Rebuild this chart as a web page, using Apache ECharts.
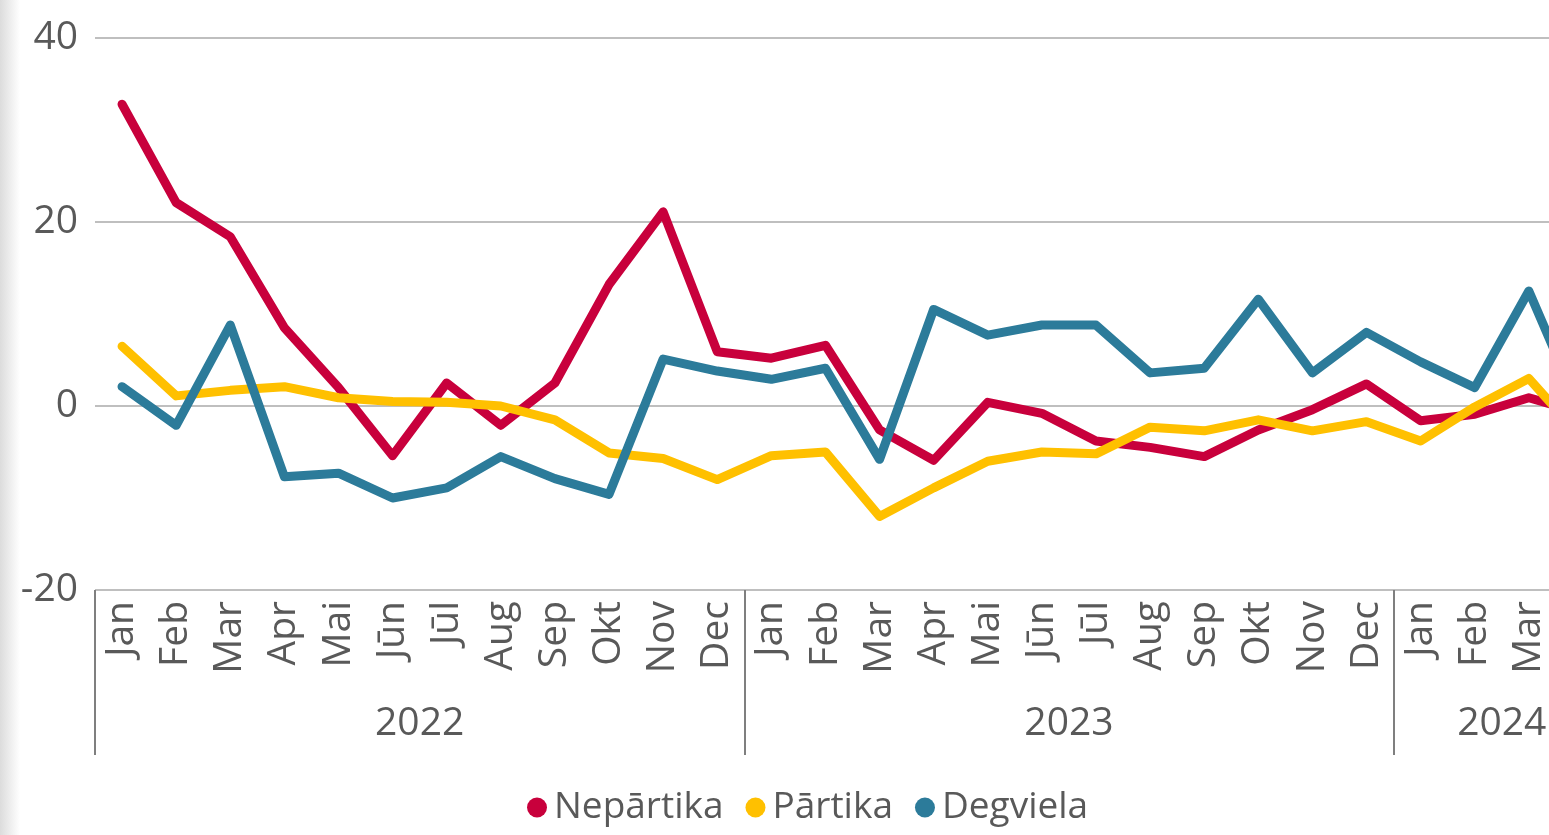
<!DOCTYPE html>
<html>
<head>
<meta charset="utf-8">
<script src="https://cdn.jsdelivr.net/npm/echarts@6/dist/echarts.min.js"></script>
<style>
  html, body { margin: 0; padding: 0; background: #fff; }
  #chart { width: 1549px; height: 835px; }
  #shade { position: absolute; left: 0; top: 0; width: 20px; height: 835px;
           background: linear-gradient(to right, #dcdcdc, #ffffff); }
</style>
</head>
<body>
<div id="shade"></div>
<div id="chart"></div>
<script>
var months = ['Jan','Feb','Mar','Apr','Mai','Jūn','Jūl','Aug','Sep','Okt','Nov','Dec',
              'Jan','Feb','Mar','Apr','Mai','Jūn','Jūl','Aug','Sep','Okt','Nov','Dec',
              'Jan','Feb','Mar','Apr'];
var years = ['2022', '2023', '2024'];
var yearStarts = [0, 12, 24];
var yearMiddles = [6, 18, 26];

var nepartika = [32.8, 22.1, 18.4, 8.5, 2.0, -5.4, 2.5, -2.1, 2.5, 13.2, 21.1, 5.9,
                 5.2, 6.6, -2.6, -5.9, 0.4, -0.8, -3.8, -4.5, -5.5, -2.6, -0.4, 2.4,
                 -1.6, -0.9, 0.9, -0.8];
var partika = [6.5, 1.1, 1.7, 2.1, 0.9, 0.5, 0.4, 0.0, -1.5, -5.1, -5.7, -8.0,
               -5.4, -5.0, -12.0, -8.9, -6.0, -5.0, -5.2, -2.3, -2.7, -1.5, -2.7, -1.7,
               -3.8, -0.1, 3.0, -3.6];
var degviela = [2.1, -2.1, 8.8, -7.7, -7.3, -10.0, -8.9, -5.5, -7.9, -9.6, 5.1, 3.8,
                2.9, 4.1, -5.8, 10.5, 7.7, 8.8, 8.8, 3.6, 4.1, 11.6, 3.6, 8.0,
                4.8, 2.0, 12.5, -1.2];

var textColor = '#595959';
var font = '"Open Sans", "Noto Sans", sans-serif';
var axisFont = 39;
var legendFont = 37;

var chart = echarts.init(document.getElementById('chart'));

function line(name, data, color) {
    return {
        name: name,
        type: 'line',
        data: data,
        symbol: 'none',
        lineStyle: { color: color, width: 9, join: 'round', cap: 'round' },
        itemStyle: { color: color },
        xAxisIndex: 0,
        animation: false
    };
}

chart.setOption({
    animation: false,
    textStyle: { fontFamily: font },
    grid: { left: 95, top: 38, width: 1515, height: 552, outerBoundsMode: 'none', containLabel: false },
    legend: {
        bottom: 4,
        left: 522,
        icon: 'circle',
        itemWidth: 20,
        itemHeight: 20,
        itemGap: 22,
        textStyle: { color: textColor, fontSize: legendFont, fontFamily: font, padding: [0, 0, 0, 2] },
        data: ['Nepārtika', 'Pārtika', 'Degviela']
    },
    xAxis: [{
        type: 'category',
        data: months,
        boundaryGap: true,
        axisLine: { show: false },
        axisTick: { show: false },
        axisLabel: { rotate: 90, margin: 11, color: textColor, fontSize: axisFont, fontFamily: font, interval: 0 }
    }, {
        type: 'value',
        min: 0,
        max: 28,
        position: 'bottom',
        axisLine: { show: false },
        splitLine: { show: false },
        axisTick: { show: true, customValues: yearStarts, length: 165, lineStyle: { color: '#7f7f7f', width: 2 } },
        axisLabel: {
            customValues: yearMiddles,
            margin: 114,
            color: textColor, fontSize: axisFont, fontFamily: font,
            formatter: function (v) { return years[yearMiddles.indexOf(v)]; }
        }
    }],
    yAxis: {
        type: 'value',
        min: -20,
        max: 40,
        interval: 20,
        axisLine: { show: false },
        axisTick: { show: false },
        axisLabel: { margin: 17, color: textColor, fontSize: axisFont, fontFamily: font },
        splitLine: { lineStyle: { color: '#bfbfbf', width: 2 } }
    },
    series: [
        line('Nepārtika', nepartika, '#c8003c'),
        line('Pārtika', partika, '#ffc000'),
        line('Degviela', degviela, '#2c7b9a')
    ]
});
</script>
</body>
</html>
